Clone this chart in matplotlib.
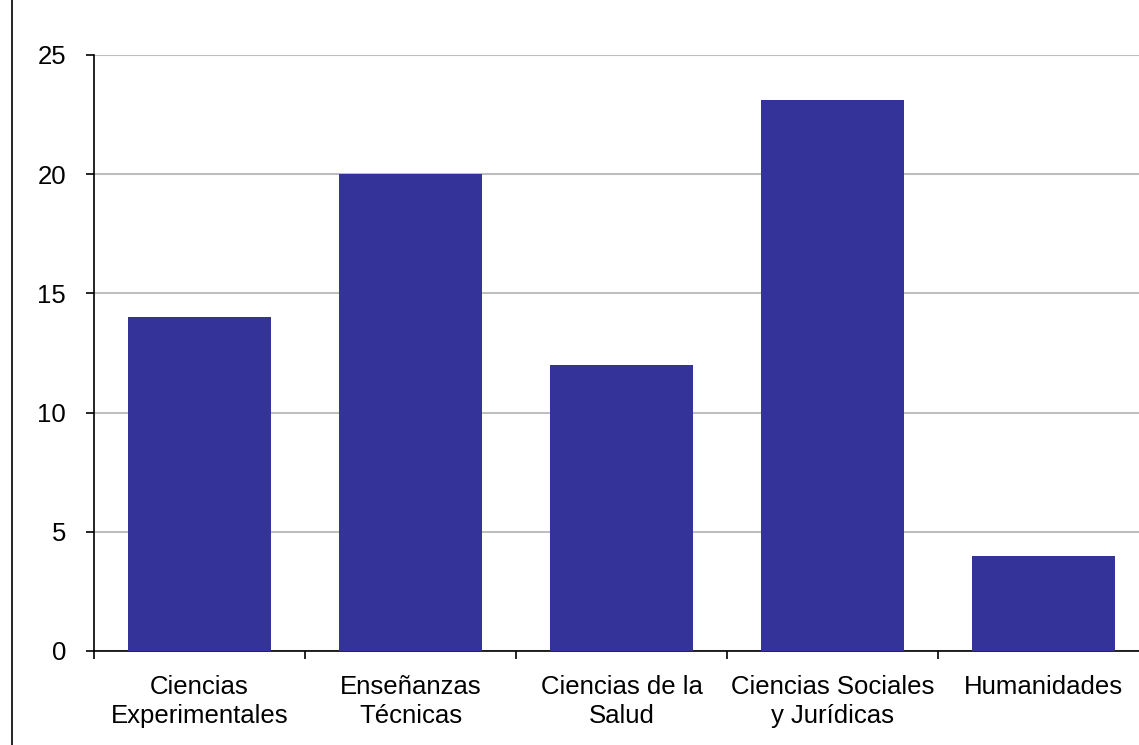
import numpy as np
import matplotlib
matplotlib.use("Agg")
matplotlib.rcParams.update({
    'font.family': ['Liberation Sans', 'DejaVu Sans'],
    'font.size': 18.5,
})
from matplotlib import pyplot as plt
from matplotlib.lines import Line2D

# data
categories = ['Ciencias\nExperimentales', 'Enseñanzas\nTécnicas', 'Ciencias de la\nSalud',
              'Ciencias Sociales\ny Jurídicas', 'Humanidades']
values = [14, 20, 12, 23.1, 4]
yticks = [0, 5, 10, 15, 20, 25]

W, H = 1139, 745
fig = plt.figure(figsize=(W / 100, H / 100), dpi=100)
ax = fig.add_axes([94 / W, (H - 651) / H, 1055 / W, 596 / H])

x = np.arange(len(categories))
ax.bar(x, values, width=0.675, color='#333399', zorder=3)

ax.set_xlim(-0.5, len(categories) - 0.5)
ax.set_ylim(0, 25)
ax.set_yticks(yticks)
ax.yaxis.grid(True, color='#BEBEBE', linewidth=1.5, zorder=0)

# labels at centers, tick marks at boundaries
ax.set_xticks(x)
ax.set_xticklabels(categories, linespacing=1.3)
ax.set_xticks(np.arange(len(categories) + 1) - 0.5, minor=True)
ax.tick_params(axis='x', which='major', length=0, pad=17)
ax.tick_params(axis='x', which='minor', length=6, width=1.2, color='black')
ax.tick_params(axis='y', length=6, width=1.2, pad=14)

for s in ['top', 'right']:
    ax.spines[s].set_visible(False)
for s in ['left', 'bottom']:
    ax.spines[s].set_linewidth(1.2)

# thin frame line at the far left
fig.add_artist(Line2D([12 / W, 12 / W], [0, 1], color='black', linewidth=1.2,
                      transform=fig.transFigure))

plt.savefig('out.png', dpi=100)
